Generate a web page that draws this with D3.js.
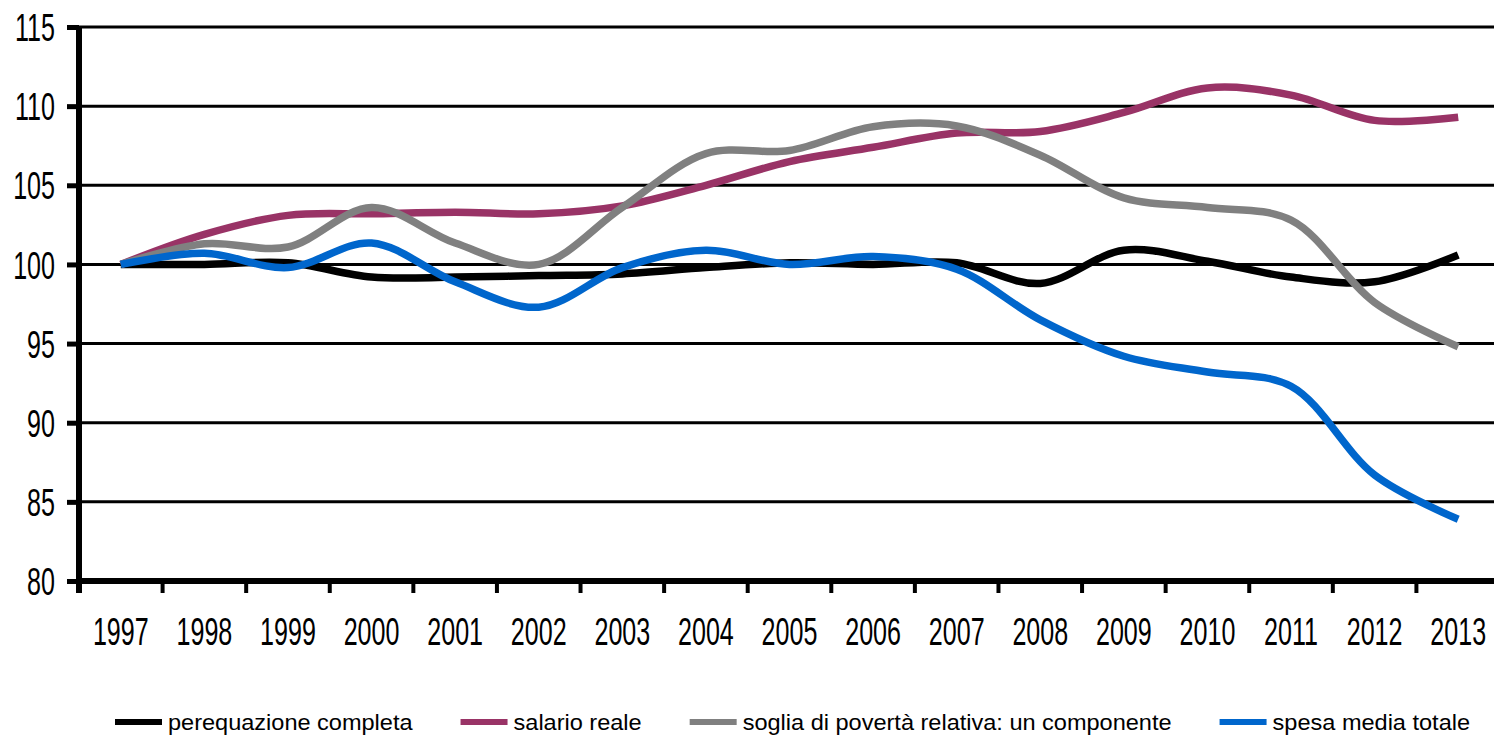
<!DOCTYPE html>
<html>
<head>
<meta charset="utf-8">
<script src="https://cdn.jsdelivr.net/npm/d3@7"></script>
<style>
  body { margin: 0; background: #fff; overflow: hidden; }
  text { font-family: "Liberation Sans", Arial, sans-serif; fill: #000; }
</style>
</head>
<body>
<script>
// anni e serie (indice 1997 = 100)
var years = ["1997","1998","1999","2000","2001","2002","2003","2004","2005","2006","2007","2008","2009","2010","2011","2012","2013"];
var perequazione = [100, 100.0, 100.1, 99.2, 99.2, 99.3, 99.4, 99.8, 100.1, 100.0, 100.1, 98.8, 100.9, 100.2, 99.2, 98.9, 100.6];
var salario = [100, 101.9, 103.1, 103.2, 103.3, 103.2, 103.7, 105.0, 106.5, 107.4, 108.3, 108.4, 109.6, 111.15, 110.7, 109.1, 109.3];
var soglia = [100, 101.3, 101.1, 103.6, 101.35, 100.0, 103.6, 107.0, 107.2, 108.7, 108.75, 106.9, 104.2, 103.6, 102.8, 97.6, 94.8];
var spesa = [100, 100.7, 99.8, 101.35, 98.9, 97.3, 99.8, 100.9, 100.0, 100.5, 99.7, 96.5, 94.2, 93.2, 92.3, 86.7, 83.9];
var yTicks = [80, 85, 90, 95, 100, 105, 110, 115];

var seriesNames = ["perequazione completa", "salario reale", "soglia di povertà relativa: un componente", "spesa media totale"];
var seriesColors = ["#000000", "#993366", "#808080", "#0066cc"];
var seriesData = [perequazione, salario, soglia, spesa];

var W = 1494, H = 738;
var plotLeft = 79, plotRight = 1500, plotTop = 27, plotBottom = 581;

var svg = d3.select("body").append("svg")
    .attr("width", W)
    .attr("height", H);

var x = d3.scaleBand().domain(years).range([plotLeft, plotRight]);
var y = d3.scaleLinear().domain([80, 115]).range([plotBottom, plotTop]);

// griglia orizzontale
svg.append("g")
    .selectAll("line")
    .data(yTicks.filter(function(d) { return d > 80; }))
    .enter().append("line")
    .attr("x1", plotLeft)
    .attr("x2", W)
    .attr("y1", function(d) { return y(d); })
    .attr("y2", function(d) { return y(d); })
    .attr("stroke", "#000")
    .attr("stroke-width", 3);

// asse y
var yAxis = svg.append("g")
    .attr("transform", "translate(" + plotLeft + ",0)")
    .call(d3.axisLeft(y).tickValues(yTicks).tickSize(12).tickPadding(0));
yAxis.select(".domain").remove();
yAxis.selectAll(".tick line").attr("stroke-width", 5);
yAxis.selectAll(".tick text")
    .attr("x", 0)
    .attr("dy", "0.36em")
    .attr("font-size", 38)
    .attr("fill", "#000")
    .attr("transform", "translate(-24,0) scale(0.66,1)");
svg.append("line")
    .attr("x1", plotLeft).attr("x2", plotLeft)
    .attr("y1", plotTop).attr("y2", plotBottom + 12)
    .attr("stroke", "#000").attr("stroke-width", 6);

// asse x
svg.append("line")
    .attr("x1", plotLeft - 3).attr("x2", W)
    .attr("y1", plotBottom).attr("y2", plotBottom)
    .attr("stroke", "#000").attr("stroke-width", 6);
svg.append("g")
    .selectAll("line")
    .data(years)
    .enter().append("line")
    .attr("x1", function(d) { return x(d) + x.bandwidth(); })
    .attr("x2", function(d) { return x(d) + x.bandwidth(); })
    .attr("y1", plotBottom)
    .attr("y2", plotBottom + 12)
    .attr("stroke", "#000")
    .attr("stroke-width", 4);
svg.append("g")
    .selectAll("text")
    .data(years)
    .enter().append("text")
    .attr("text-anchor", "middle")
    .attr("font-size", 38)
    .attr("transform", function(d) {
        return "translate(" + (x(d) + x.bandwidth() / 2) + ",645) scale(0.66,1)";
    })
    .text(function(d) { return d; });

// linee
var line = d3.line()
    .x(function(d, i) { return x(years[i]) + x.bandwidth() / 2; })
    .y(function(d) { return y(d); })
    .curve(d3.curveCatmullRom.alpha(0.5));

svg.append("g")
    .selectAll("path")
    .data(seriesData)
    .enter().append("path")
    .attr("d", line)
    .attr("fill", "none")
    .attr("stroke", function(d, i) { return seriesColors[i]; })
    .attr("stroke-width", 7.5)
    .attr("stroke-linejoin", "round");

// legenda
var legend = svg.append("g");
var lx = 115;
seriesNames.forEach(function(name, i) {
    legend.append("line")
        .attr("x1", lx).attr("x2", lx + 47)
        .attr("y1", 722).attr("y2", 722)
        .attr("stroke", seriesColors[i])
        .attr("stroke-width", 6);
    var t = legend.append("text")
        .attr("font-size", 22)
        .attr("transform", "translate(" + (lx + 53) + ",730) scale(1.07,1)")
        .text(name);
    lx += 53 + t.node().getComputedTextLength() * 1.07 + 48;
});
</script>
</body>
</html>
